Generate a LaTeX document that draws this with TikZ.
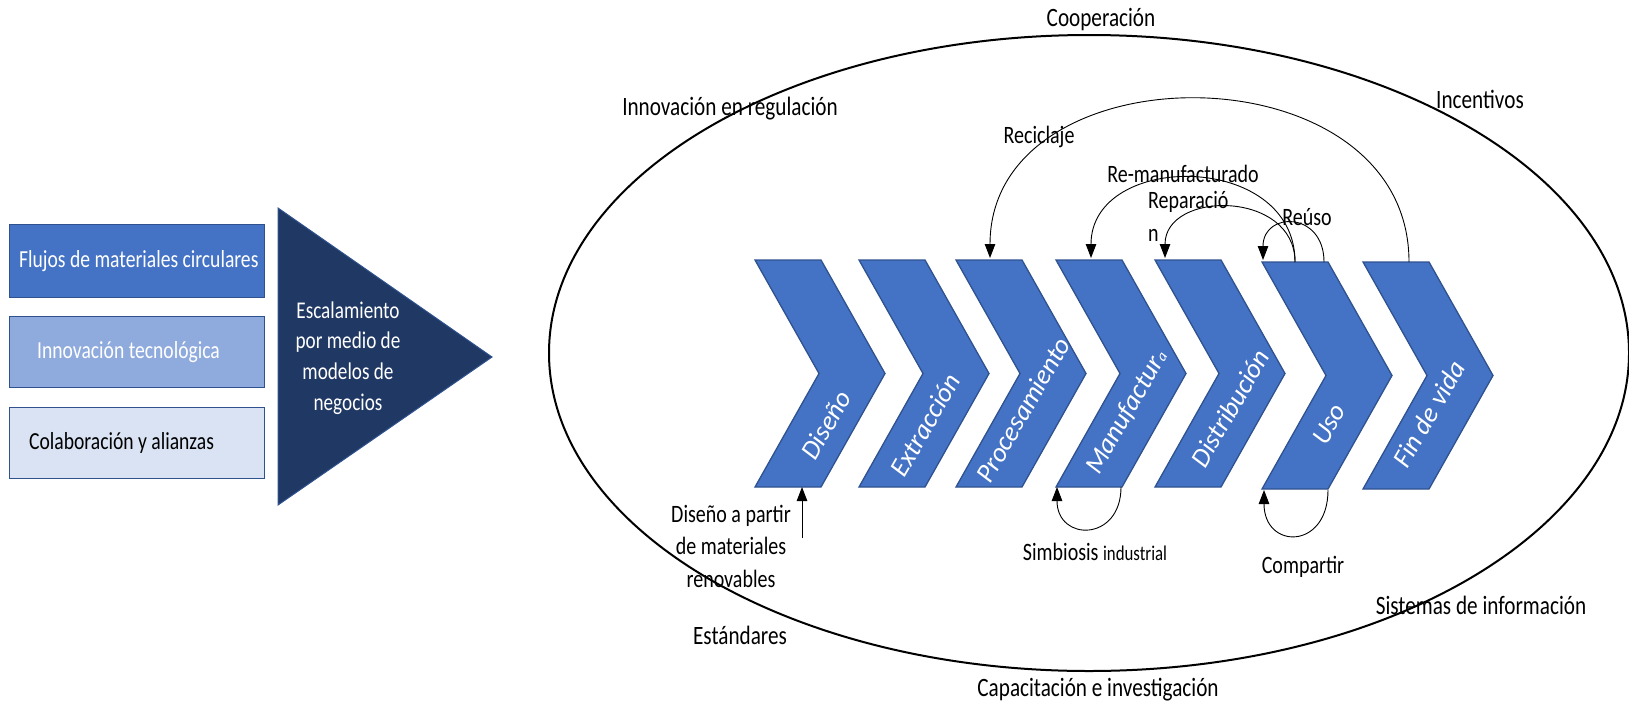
\documentclass[tikz,border=0pt]{standalone}
\usepackage{fontspec}
\setmainfont{Carlito}[FakeStretch=0.8]
\newfontfamily\chevfont{Carlito}
\usetikzlibrary{arrows.meta}
\definecolor{cblue}{HTML}{4472C4}
\definecolor{clight}{HTML}{8FAADC}
\definecolor{cpale}{HTML}{DAE3F3}
\definecolor{cnavy}{HTML}{203864}
\definecolor{cedge}{HTML}{2F528F}
\tikzset{
  lbl/.style={inner sep=0pt, font=\fontsize{25}{31}\selectfont, text=black},
  olbl/.style={inner sep=0pt, font=\fontsize{26.5}{32}\selectfont, text=black},
  boxnode/.style={draw=cedge, line width=1.2pt, anchor=north west, minimum width=255pt, minimum height=71pt, inner sep=0pt},
  boxtext/.style={inner sep=0pt, anchor=west, font=\fontsize{24.5}{30}\selectfont},
  chev/.style={fill=cblue, draw=cedge, line width=1.3pt, line join=miter},
  chevtext/.style={inner sep=0pt, text=white, font=\chevfont\itshape\fontsize{27}{30}\selectfont, rotate=60},
  flow/.style={draw=black, line width=0.9pt, -{Triangle[length=14pt,width=10.5pt]}}
}
\begin{document}
\begin{tikzpicture}[x=1pt,y=-1pt]
\useasboundingbox (0,0) rectangle (1629,707);

% left boxes
\node[boxnode, fill=cblue, minimum height=73pt] (b1) at (9,224) {};
\node[boxnode, fill=clight] (b2) at (9,316) {};
\node[boxnode, fill=cpale] (b3) at (9,407) {};
\node[boxtext, text=white] (b1t) at ([xshift=10pt]b1.west) {Flujos de materiales circulares};
\node[boxtext, text=white] (b2t) at ([xshift=28pt]b2.west) {Innovación tecnológica};
\node[boxtext, text=black] (b3t) at ([xshift=20pt]b3.west) {Colaboración y alianzas};

% triangle
\draw[fill=cnavy, draw=cedge, line width=1pt] (278,208) -- (492,357) -- (278,505) -- cycle;
\node[inner sep=0pt, text=white, align=center, font=\fontsize{24}{30.7}\selectfont] (esc) at (348,358) {Escalamiento\\por medio de\\modelos de\\negocios};

% ellipse
\draw[line width=2pt] (1089,353) ellipse [x radius=540, y radius=318];

% chevrons
\foreach \x/\t in {755/260, 859/260, 956/260, 1056/260, 1155/260, 1262/262, 1363/262} {
  \draw[chev] (\x,\t) -- ++(66,0) -- ++(64,113.5) -- ++(-64,113.5) -- ++(-66,0) -- ++(64,-113.5) -- cycle;
}
\node[chevtext] (tDis) at (826,425) {Diseño};
\node[chevtext] (tExt) at (925,425) {Extracción};
\node[chevtext] (tPro) at (1023,410) {Procesamiento};
\node[chevtext] (tMan) at (1127,412) {Manufactur{\fontsize{15}{15}\selectfont a}};
\node[chevtext] (tDist) at (1230,408) {Distribución};
\node[chevtext] (tUso) at (1329,424) {Uso};
\node[chevtext] (tFin) at (1429,414) {Fin de vida};

% connector end points on the chevrons
\coordinate (proTop) at (990,258);
\coordinate (manTop) at (1091,258);
\coordinate (disTop) at (1165,258);
\coordinate (usoTopL) at (1263,260);
\coordinate (usoTopM) at (1295,262);
\coordinate (usoTopR) at (1324,262);
\coordinate (finTop) at (1409,262);
\coordinate (dseBot) at (802,487);
\coordinate (dseFoot) at (802,538);
\coordinate (manBotL) at (1057,487);
\coordinate (manBotR) at (1121,487);
\coordinate (usoBotL) at (1264,490);
\coordinate (usoBotR) at (1328,490);

% loops
\draw[flow] (finTop) .. controls (1409,46) and (990,46) .. (proTop);
\draw[flow] (usoTopM) .. controls (1295,151) and (1091,151) .. (manTop);
\draw[flow] (usoTopM) .. controls (1295,190) and (1165,190) .. (disTop);
\draw[flow] (usoTopR) .. controls (1324,211) and (1263,211) .. (usoTopL);
\draw[flow] (manBotR) .. controls (1121,542) and (1057,542) .. (manBotL);
\draw[flow] (usoBotR) .. controls (1328,550) and (1264,550) .. (usoBotL);
\draw[flow] (dseFoot) -- (dseBot);

% inner labels
\node[lbl] (lRec) at (1039,137) {Reciclaje};
\node[lbl] (lRem) at (1183,174) {Re-manufacturado};
\node[lbl, anchor=west] (lRep) at (1148,202) {Reparació};
\node[lbl, anchor=west] (lRepn) at (1148,235) {n};
\node[lbl] (lReu) at (1307,217) {Reúso};
\node[lbl, align=center, font=\fontsize{25}{32.5}\selectfont] (lDmr) at (731,546) {Diseño a partir\\de materiales\\renovables};
\node[lbl] (lSim) at (1095,552) {Simbiosis {\fontsize{21}{25}\selectfont industrial}};
\node[lbl] (lCom) at (1303,567) {Compartir};

% outer labels
\node[olbl] (oCoop) at (1101,20) {Cooperación};
\node[olbl] (oInn) at (730,109) {Innovación en regulación};
\node[olbl] (oInc) at (1480,99) {Incentivos};
\node[olbl] (oSis) at (1481,605) {Sistemas de información};
\node[olbl] (oEst) at (740,635) {Estándares};
\node[olbl] (oCap) at (1098,690) {Capacitación e investigación};
\end{tikzpicture}
\end{document}
